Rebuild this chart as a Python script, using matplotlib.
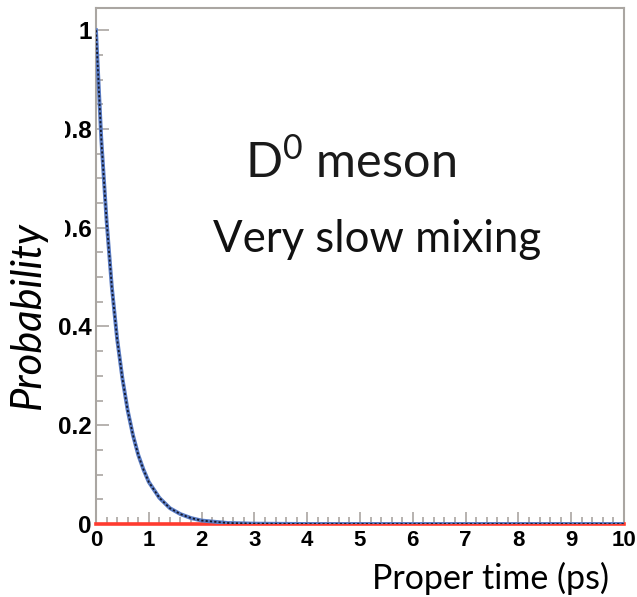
import matplotlib
matplotlib.use("Agg")
import matplotlib.pyplot as plt
from matplotlib.patches import Rectangle
from matplotlib.ticker import MultipleLocator

# proper time (ps) and probabilities
t_ps = [0.0, 0.1, 0.2, 0.3, 0.4, 0.5, 0.6, 0.7, 0.8, 0.9, 1.0,
        1.2, 1.4, 1.6, 1.8, 2.0, 2.5, 3.0, 4.0, 5.0, 6.0, 7.0, 8.0, 9.0, 10.0]
p_unmixed = [1.00, 0.78, 0.615, 0.48, 0.375, 0.295, 0.23, 0.18, 0.14, 0.11, 0.085,
             0.053, 0.032, 0.020, 0.012, 0.007, 0.002, 0.0007, 0.0, 0.0, 0.0, 0.0, 0.0, 0.0, 0.0]
# mixed fraction stays at zero over the whole range
p_mixed = [0.0] * len(t_ps)

x_ticks = [0, 1, 2, 3, 4, 5, 6, 7, 8, 9, 10]
y_ticks = [0, 0.2, 0.4, 0.6, 0.8, 1.0]
y_ticklabels = ["0", "0.2", "0.4", "0.6", "0.8", "1"]

GREY = "#aaa6a2"
W, H = 637, 597

fig = plt.figure(figsize=(W / 100, H / 100), dpi=100)
fig.patch.set_facecolor("white")
ax = fig.add_axes([96 / W, 1 - 524 / H, (624 - 96) / W, (524 - 8) / H])

ax.plot(t_ps, p_mixed, color="#ff3b2f", lw=2.6, zorder=3, clip_on=False)
ax.plot(t_ps, p_unmixed, color="#5a7cc4", lw=2.8, zorder=4)
ax.plot(t_ps, p_unmixed, color="#15182a", lw=1.3, ls=(0, (1.2, 1.2)), zorder=5)

ax.set_xlim(0, 10)
ax.set_ylim(0, 1.045)
ax.set_xticks(x_ticks)
ax.set_yticks(y_ticks)
ax.set_yticklabels(y_ticklabels)
ax.xaxis.set_minor_locator(MultipleLocator(0.2))
ax.yaxis.set_minor_locator(MultipleLocator(0.05))

tick_font = dict(family="Liberation Sans", weight="bold")
for lab in ax.get_xticklabels():
    lab.set(fontsize=16, **tick_font)
for lab in ax.get_yticklabels():
    lab.set(fontsize=17.5, **tick_font)

ax.tick_params(which="both", direction="in", color=GREY, width=1.2,
               top=False, right=False)
ax.tick_params(which="major", length=9)
ax.tick_params(which="minor", length=5)
ax.tick_params(axis="x", pad=4)
ax.tick_params(axis="y", pad=3)
for s in ax.spines.values():
    s.set_color(GREY)
    s.set_linewidth(1.5)

txt_font = "Lato"
ax.text(0.282, 0.67, r"D$^{\mathregular{0}}$ meson", transform=ax.transAxes,
        fontsize=35, family=txt_font, color="#1a1a1a", va="baseline")
ax.text(0.222, 0.527, "Very slow mixing", transform=ax.transAxes,
        fontsize=31.5, family=txt_font, color="#111111", va="baseline")

fig.text(28 / W, 1 - 315 / H, "Probability", rotation=90, fontsize=30,
         family=txt_font, style="italic", ha="center", va="center", zorder=10)
fig.text(490 / W, 1 - 578 / H, "Proper time (ps)", fontsize=24.5,
         family=txt_font, ha="center", va="center", zorder=10)

# white strip over the far left of the 0.6 / 0.8 labels
fig.patches.append(Rectangle((0, 1 - 250 / H), 65 / W, 140 / H,
                             transform=fig.transFigure, facecolor="white",
                             edgecolor="none", zorder=5))

fig.savefig("out.png", dpi=100)
